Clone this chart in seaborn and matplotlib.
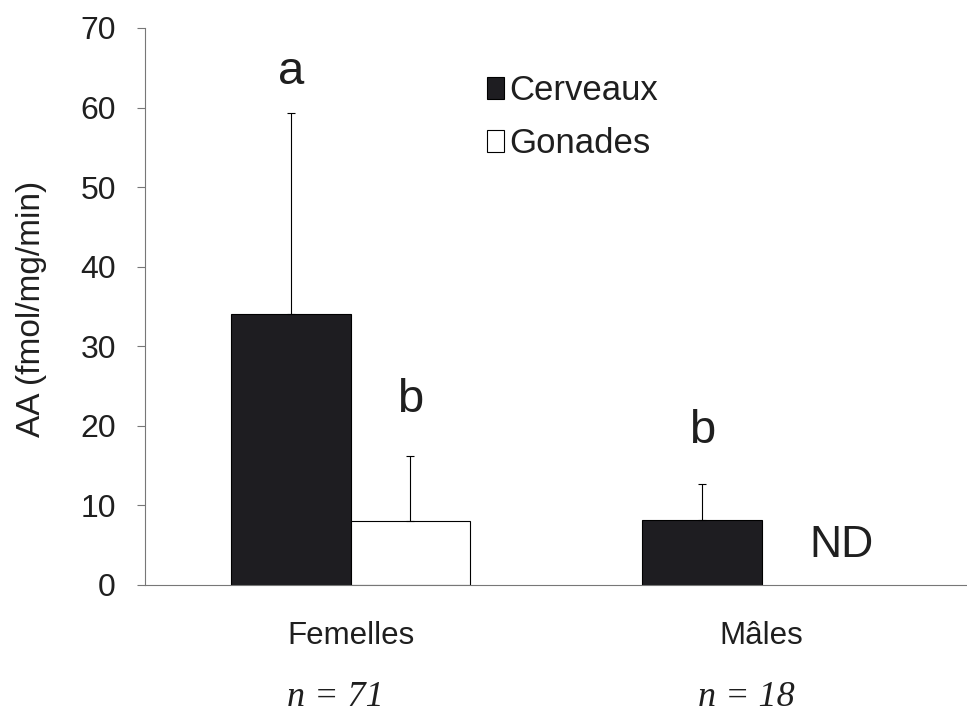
import pandas as pd
import numpy as np
import matplotlib
matplotlib.use("Agg")
import matplotlib.pyplot as plt
import seaborn as sns

# data
groups = ["Femelles", "Mâles"]
tissues = ["Cerveaux", "Gonades"]
means = {"Cerveaux": [34.0, 8.2], "Gonades": [8.1, np.nan]}   # NaN = ND (not detected)
errors = {"Cerveaux": [25.3, 4.5], "Gonades": [8.1, np.nan]}
n_labels = ["n = 71", "n = 18"]
letters = {("Femelles", "Cerveaux"): "a", ("Femelles", "Gonades"): "b",
           ("Mâles", "Cerveaux"): "b"}
letter_y = {("Femelles", "Cerveaux"): 64.5, ("Femelles", "Gonades"): 23.3,
            ("Mâles", "Cerveaux"): 19.3}

rows = []
for t in tissues:
    for i, g in enumerate(groups):
        rows.append({"group": g, "tissue": t, "value": means[t][i], "err": errors[t][i]})
df = pd.DataFrame(rows)

sns.set_style("white")
plt.rcParams["font.family"] = ["Liberation Sans", "DejaVu Sans"]
text_color = "#1f1f1f"
dark = "#1e1c22"
axis_gray = "#777777"

fig = plt.figure(figsize=(9.67, 7.14), dpi=100, facecolor="white")
ax = fig.add_axes([0.15, 0.1807, 0.85, 0.7801])

sns.barplot(data=df.dropna(subset=["value"]), x="group", y="value", hue="tissue",
            order=groups, hue_order=tissues, palette={"Cerveaux": dark, "Gonades": "white"},
            width=0.58, gap=0, errorbar=None, edgecolor="black", linewidth=0.8,
            ax=ax, legend=True)

# upward-only error bars
offsets = {"Cerveaux": -0.145, "Gonades": 0.145}
for t in tissues:
    for i, g in enumerate(groups):
        m, e = means[t][i], errors[t][i]
        if np.isnan(m):
            continue
        ax.errorbar(i + offsets[t], m, yerr=[[0], [e]], fmt="none", ecolor="black",
                    elinewidth=0.8, capsize=3, capthick=0.8)

# significance letters
for (g, t), lab in letters.items():
    x = groups.index(g) + offsets[t]
    ax.text(x, letter_y[(g, t)], lab, ha="center", va="center", fontsize=34, color=text_color)
ax.text(1.194, 5.0, "ND", ha="center", va="center", fontsize=32, color=text_color)

ax.set_xlim(-0.5, 1.5)
ax.set_ylim(0, 70)
ax.set_yticks(range(0, 71, 10))
ax.tick_params(axis="y", labelsize=23, labelcolor=text_color, color=axis_gray,
               length=6, width=0.8, direction="out", left=True, pad=15)
ax.set_xticks([0, 1])
ax.set_xticklabels(groups)
ax.tick_params(axis="x", labelsize=22.5, labelcolor=text_color, length=0, pad=26)
ax.set_xticks([0.5], minor=True)
ax.tick_params(axis="x", which="minor", length=6, width=0.8, color=axis_gray, direction="out")

ax.set_xlabel("")
ax.set_ylabel("AA (fmol/mg/min)", fontsize=24, color=text_color)
ax.yaxis.set_label_coords(-0.119, 0.495)

# sample sizes in italic serif under the group names
for i, lab in enumerate(n_labels):
    ax.text(i - 0.036, -0.202, lab, transform=ax.get_xaxis_transform(), ha="center", va="center",
            fontsize=26, style="italic", family="Liberation Serif", color=text_color)

for side in ["top", "right"]:
    ax.spines[side].set_visible(False)
for side in ["left", "bottom"]:
    ax.spines[side].set_color(axis_gray)
    ax.spines[side].set_linewidth(0.8)

leg = ax.legend(loc="upper left", bbox_to_anchor=(0.416, 0.917), frameon=False,
                fontsize=25, handlelength=0.5, handleheight=0.58, handletextpad=0.15,
                labelspacing=0.58, borderpad=0, borderaxespad=0)
for txt in leg.get_texts():
    txt.set_color(text_color)

fig.savefig("out.png", dpi=100, facecolor="white")
